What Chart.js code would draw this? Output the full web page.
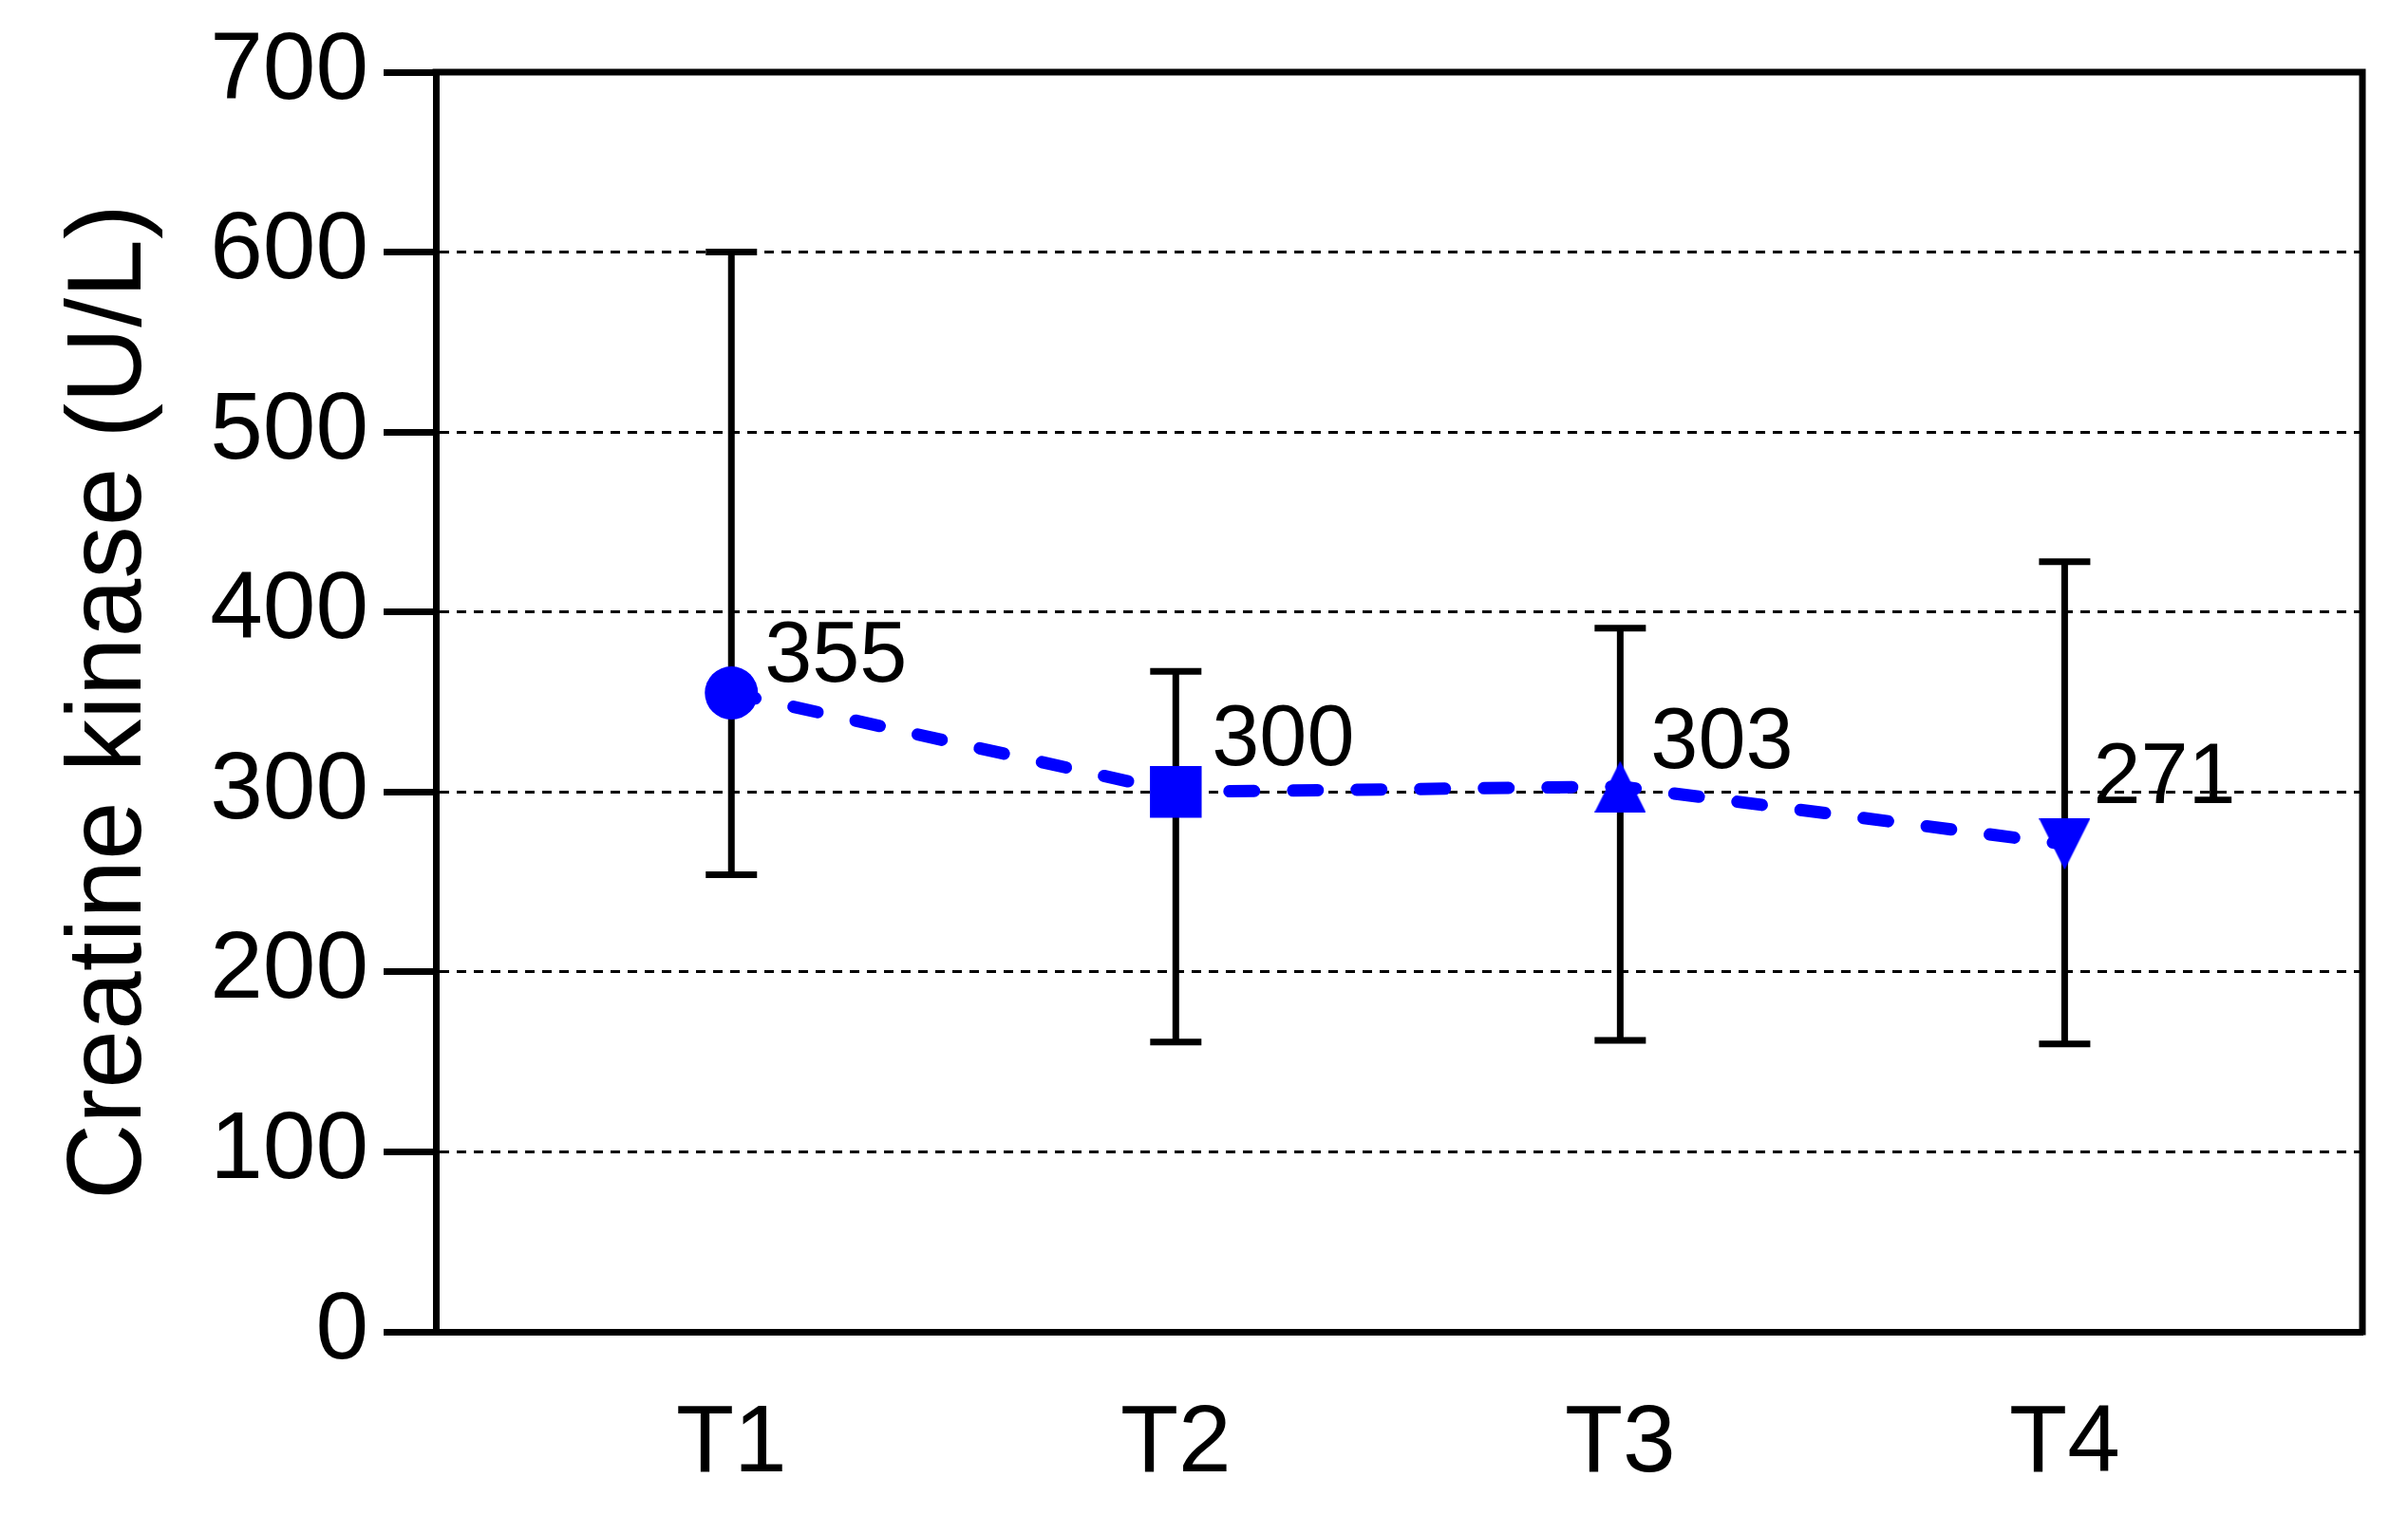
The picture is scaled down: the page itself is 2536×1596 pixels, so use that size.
<!DOCTYPE html>
<html>
<head>
<meta charset="utf-8">
<script src="https://cdn.jsdelivr.net/npm/chart.js@4/dist/chart.umd.min.js"></script>
<style>
  html, body { margin: 0; padding: 0; background: #fff; }
  canvas { display: block; }
</style>
</head>
<body>
<canvas id="chart-ck" width="2536" height="1596"></canvas>
<script>
// data
const categories = ["T1", "T2", "T3", "T4"];
const meanValues = [355, 300, 303, 271];
const errLow = [254, 161, 162, 160];
const errHigh = [600, 367, 391, 428];
const yTicks = [0, 100, 200, 300, 400, 500, 600, 700];

const FONT = "'Liberation Sans', Arial, sans-serif";
const BLUE = "#0000FF";

// label offsets (text left / baseline, relative to the point)
const labelDx = [35, 38, 32, 30];
const labelDy = [-12, -28, -20, -43];

// triangle markers centred on their bounding box
function makeTriangle(down, size) {
  const c = document.createElement("canvas");
  c.width = size;
  c.height = size;
  const g = c.getContext("2d");
  g.fillStyle = BLUE;
  g.beginPath();
  if (down) {
    g.moveTo(0, 0);
    g.lineTo(size, 0);
    g.lineTo(size / 2, size);
  } else {
    g.moveTo(size / 2, 0);
    g.lineTo(size, size);
    g.lineTo(0, size);
  }
  g.closePath();
  g.fill();
  return c;
}

// error bars
const errorBarPlugin = {
  id: "errorBars",
  beforeDatasetsDraw(chart) {
    const { ctx, scales } = chart;
    const meta = chart.getDatasetMeta(0);
    ctx.save();
    ctx.strokeStyle = "#000";
    ctx.lineWidth = 7;
    meta.data.forEach((pt, i) => {
      const x = pt.x;
      const yTop = scales.y.getPixelForValue(errHigh[i]);
      const yBot = scales.y.getPixelForValue(errLow[i]);
      ctx.beginPath();
      ctx.moveTo(x, yTop);
      ctx.lineTo(x, yBot);
      ctx.moveTo(x - 27, yTop);
      ctx.lineTo(x + 27, yTop);
      ctx.moveTo(x - 27, yBot);
      ctx.lineTo(x + 27, yBot);
      ctx.stroke();
    });
    ctx.restore();
  },
};

// top + right frame
const framePlugin = {
  id: "frame",
  beforeDatasetsDraw(chart) {
    const { ctx, chartArea } = chart;
    ctx.save();
    ctx.strokeStyle = "#000";
    ctx.lineWidth = 7;
    ctx.lineCap = "square";
    ctx.beginPath();
    ctx.moveTo(chartArea.left, chartArea.top);
    ctx.lineTo(chartArea.right, chartArea.top);
    ctx.lineTo(chartArea.right, chartArea.bottom);
    ctx.stroke();
    ctx.restore();
  },
};

// value labels
const valueLabelPlugin = {
  id: "valueLabels",
  afterDatasetsDraw(chart) {
    const { ctx } = chart;
    const meta = chart.getDatasetMeta(0);
    ctx.save();
    ctx.fillStyle = "#000";
    ctx.font = "90px " + FONT;
    ctx.textAlign = "left";
    ctx.textBaseline = "alphabetic";
    meta.data.forEach((pt, i) => {
      ctx.fillText(String(meanValues[i]), pt.x + labelDx[i], pt.y + labelDy[i]);
    });
    ctx.restore();
  },
};

const ctx_ck = document.getElementById("chart-ck");

new Chart(ctx_ck, {
  type: "line",
  data: {
    datasets: [
      {
        data: meanValues.map((v, i) => ({ x: i + 1, y: v })),
        borderColor: BLUE,
        borderWidth: 13,
        borderDash: [26, 41],
        borderCapStyle: "round",
        fill: false,
        tension: 0,
        pointStyle: ["circle", "rect", makeTriangle(false, 54), makeTriangle(true, 54)],
        pointRadius: [28, 38.5, 27, 27],
        pointBackgroundColor: BLUE,
        pointBorderColor: BLUE,
        pointBorderWidth: 0,
      },
    ],
  },
  options: {
    responsive: false,
    animation: false,
    events: [],
    layout: { padding: { top: 74, right: 48, left: 0, bottom: 0 } },
    plugins: {
      legend: { display: false },
      tooltip: { enabled: false },
    },
    scales: {
      x: {
        type: "linear",
        min: 0.335,
        max: 4.67,
        afterBuildTicks: (scale) => {
          scale.ticks = categories.map((c, i) => ({ value: i + 1 }));
        },
        afterFit: (scale) => {
          scale.height = 193;
        },
        grid: { display: false, drawTicks: false },
        border: { display: true, color: "#000", width: 7 },
        ticks: {
          color: "#000",
          padding: 59,
          maxRotation: 0,
          autoSkip: false,
          font: { family: FONT, size: 100 },
          callback: (value) => categories[value - 1],
        },
      },
      y: {
        min: 0,
        max: 700,
        afterBuildTicks: (scale) => {
          scale.ticks = yTicks.map((v) => ({ value: v }));
        },
        afterFit: (scale) => {
          scale.width = 459;
        },
        grid: {
          color: "#000",
          lineWidth: 3,
          tickLength: 55,
          tickWidth: 7,
          tickColor: "#000",
        },
        border: { display: true, color: "#000", width: 7, dash: [10, 8] },
        ticks: {
          color: "#000",
          padding: 16,
          font: { family: FONT, size: 100 },
        },
        title: {
          display: true,
          text: "Creatine kinase (U/L)",
          color: "#000",
          padding: { top: 51, bottom: 0 },
          font: { family: FONT, size: 111 },
        },
      },
    },
  },
  plugins: [errorBarPlugin, framePlugin, valueLabelPlugin],
});
</script>
</body>
</html>
